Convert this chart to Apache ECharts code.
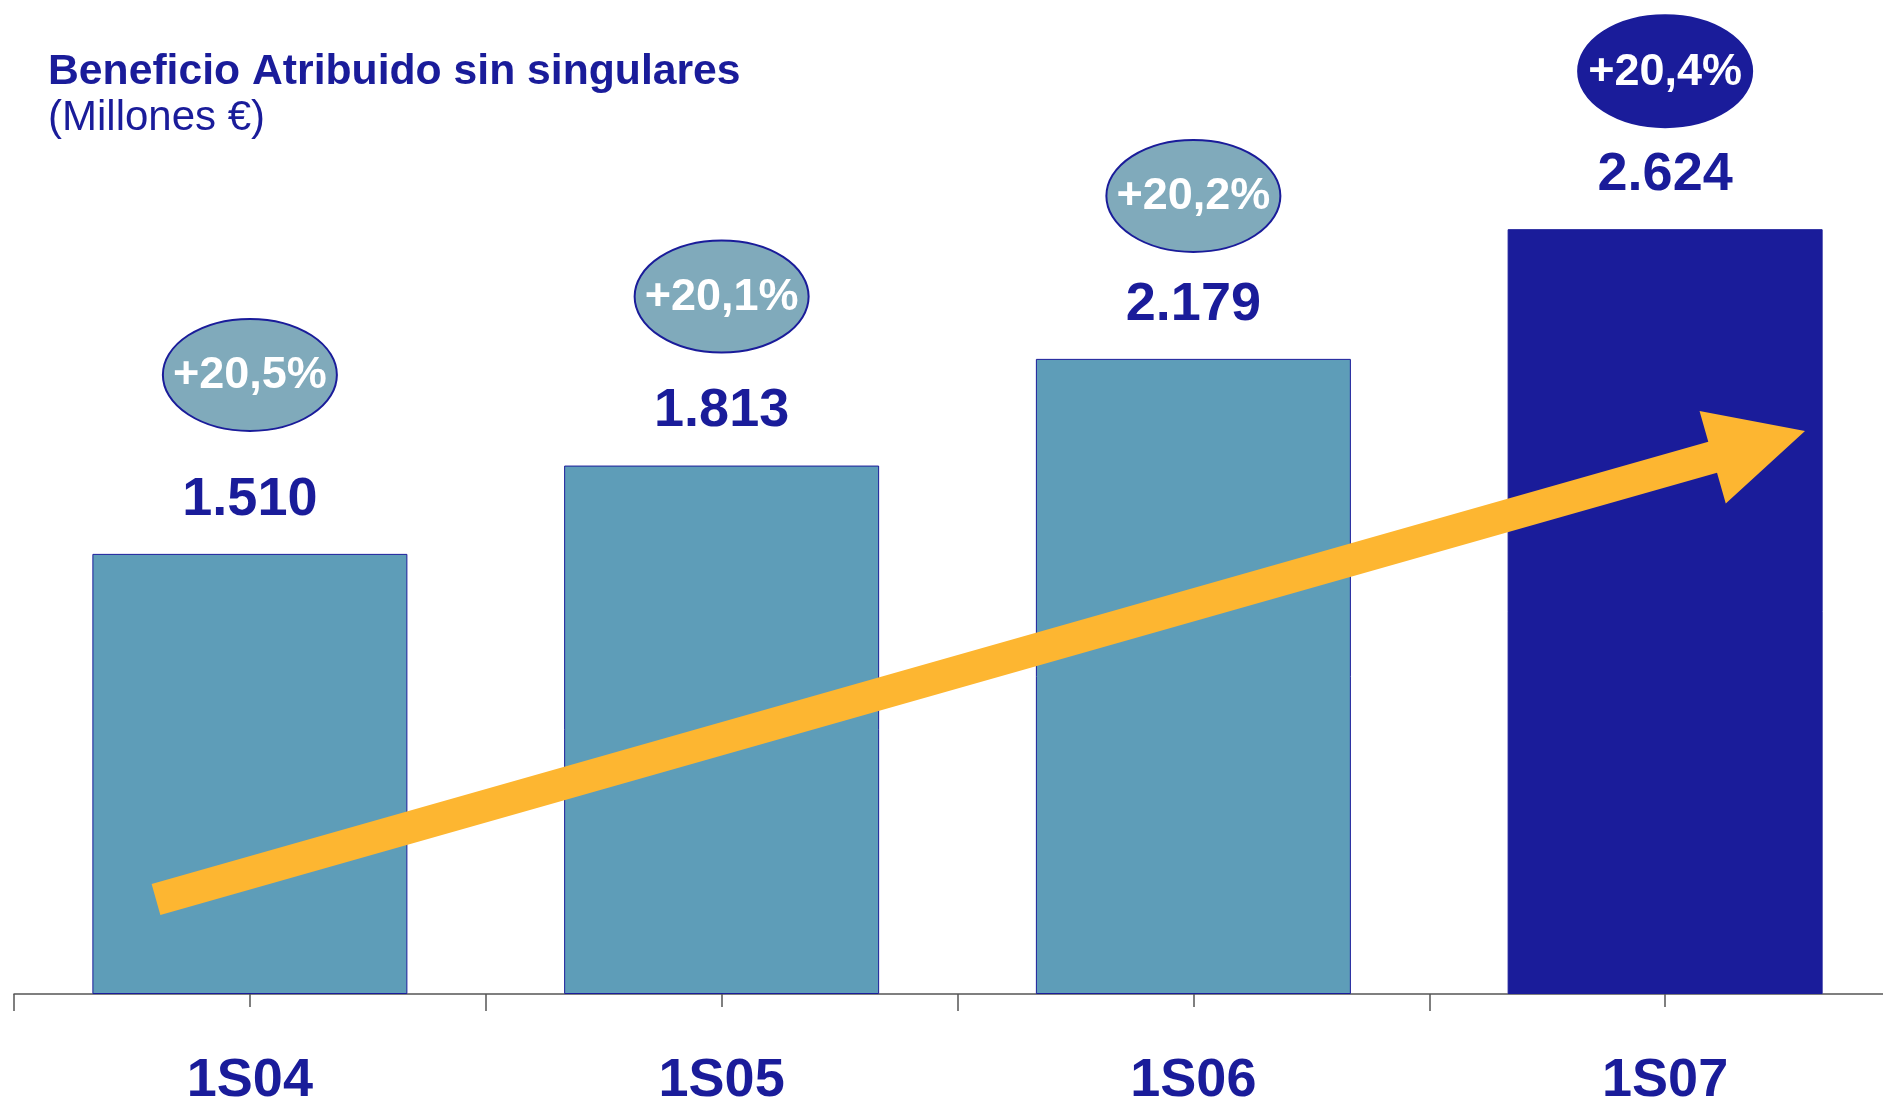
<!DOCTYPE html>
<html><head><meta charset="utf-8">
<script src="https://cdn.jsdelivr.net/npm/echarts@6/dist/echarts.min.js"></script>
<style>html,body{margin:0;padding:0;background:#fff}#c{width:1883px;height:1100px}</style>
</head><body><div id="c"></div>
<script>
// ---- data ----
const categories = ['1S04', '1S05', '1S06', '1S07'];
const values = [1510, 1813, 2179, 2624];
const growth = ['+20,5%', '+20,1%', '+20,2%', '+20,4%'];
const titleText = 'Beneficio Atribuido sin singulares';
const subtitleText = '(Millones €)';

// ---- style / layout ----
const NAVY = '#1a1c9a';
const STEEL = '#5e9db8';
const BUBBLE = '#80aabb';
const YELLOW = '#fdb631';
const FONT = '"Liberation Sans", Arial, Helvetica, sans-serif';
const bubbleLift = [179, 169, 163, 158]; // px above bar top
const bubbleRx = 87, bubbleRy = 56;

const fmt = v => String(v).replace(/\B(?=(\d{3})+(?!\d))/g, '.');

function arrowPoints(tail, tip, shaftW, headW, headL) {
  const dx = tip[0] - tail[0], dy = tip[1] - tail[1];
  const L = Math.hypot(dx, dy);
  const ux = dx / L, uy = dy / L, nx = -uy, ny = ux;
  const bx = tip[0] - ux * headL, by = tip[1] - uy * headL;
  const s = shaftW / 2, h = headW / 2;
  return [
    [tail[0] + nx * s, tail[1] + ny * s],
    [bx + nx * s, by + ny * s],
    [bx + nx * h, by + ny * h],
    tip,
    [bx - nx * h, by - ny * h],
    [bx - nx * s, by - ny * s],
    [tail[0] - nx * s, tail[1] - ny * s]
  ];
}

const chart = echarts.init(document.getElementById('c'), null, { renderer: 'canvas' });

chart.setOption({
  animation: false,
  backgroundColor: '#ffffff',
  grid: { left: 14, top: 3, width: 1887, height: 991, containLabel: false, outerBoundsMode: 'none' },
  xAxis: [
    {
      type: 'category', data: categories, position: 'bottom',
      axisLine: { show: true, lineStyle: { color: '#555', width: 1.5 } },
      axisTick: { show: true, alignWithLabel: true, length: 13, lineStyle: { color: '#555', width: 1.5 } },
      axisLabel: { show: true, margin: 60, color: NAVY, fontSize: 54, fontWeight: 'bold', fontFamily: FONT }
    },
    {
      type: 'category', data: categories, position: 'bottom', gridIndex: 0,
      axisLine: { show: false },
      axisTick: { show: true, alignWithLabel: false, length: 17, lineStyle: { color: '#555', width: 1.5 } },
      axisLabel: { show: false }
    }
  ],
  yAxis: { type: 'value', min: 0, max: 3400, show: false },
  series: [
    {
      type: 'bar', xAxisIndex: 0, barWidth: 315,
      data: values.map((v, i) => ({ value: v, itemStyle: { color: i === values.length - 1 ? NAVY : STEEL } })),
      itemStyle: { borderColor: NAVY, borderWidth: 1 },
      label: {
        show: true, position: 'top', distance: 27,
        formatter: p => fmt(p.value),
        color: NAVY, fontSize: 54, fontWeight: 'bold', fontFamily: FONT
      }
    },
    {
      type: 'custom', xAxisIndex: 0, z: 5,
      data: values.map((v, i) => [i, v]),
      renderItem: function (params, api) {
        const i = params.dataIndex;
        const p = api.coord([api.value(0), api.value(1)]);
        const cx = p[0], cy = p[1] - bubbleLift[i];
        const last = i === values.length - 1;
        const rx = bubbleRx, ry = bubbleRy;
        const d = `M ${cx - rx} ${cy} A ${rx} ${ry} 0 1 0 ${cx + rx} ${cy} A ${rx} ${ry} 0 1 0 ${cx - rx} ${cy} Z`;
        return {
          type: 'group',
          children: [
            { type: 'path', shape: { pathData: d }, style: { fill: last ? NAVY : BUBBLE, stroke: NAVY, lineWidth: 2 } },
            { type: 'text', x: cx, y: cy + 1, style: { text: growth[i], fill: '#ffffff', font: `bold 45px ${FONT}`, align: 'center', verticalAlign: 'middle' } }
          ]
        };
      }
    }
  ],
  graphic: [
    { type: 'text', left: 48, top: 51, style: { text: titleText, fill: NAVY, font: `bold 42.7px ${FONT}` } },
    { type: 'text', left: 48, top: 97, style: { text: subtitleText, fill: NAVY, font: `42px ${FONT}` } },
    {
      type: 'polygon', z: 100,
      shape: { points: arrowPoints([156, 899.5], [1805, 431], 32, 96, 96) },
      style: { fill: YELLOW }
    }
  ]
});
</script>
</body></html>
